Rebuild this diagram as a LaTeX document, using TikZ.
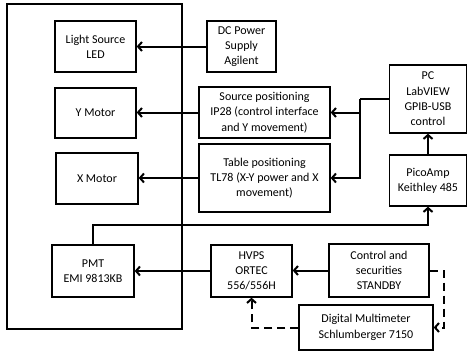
\documentclass[tikz,border=0pt]{standalone}
\usepackage{fontspec}
\setmainfont{Carlito}
\usetikzlibrary{arrows.meta}
\tikzset{box/.style={draw, line width=1.3pt, align=center, inner sep=1pt, font=\fontsize{12}{15.3}\selectfont},
  link/.style={line width=2pt, -{Straight Barb[length=4pt,width=9pt,line width=2pt]}},
  dash link/.style={link, dash pattern=on 8pt off 5pt}}

\begin{document}
\begin{tikzpicture}[x=1pt, y=-1pt]
      \useasboundingbox (0,0) rectangle (468,351);
      \draw [line width=1.3pt] (7,4) rectangle (182,329);

      \node [box, minimum width=81pt, minimum height=51pt] (led) at (95.5,46.5) {Light Source\\LED};
      \node [box, minimum width=81pt, minimum height=50pt] (ymotor) at (95.5,113) {Y Motor};
      \node [box, minimum width=82pt, minimum height=51pt] (xmotor) at (97,178.5) {X Motor};
      \node [box, minimum width=82pt, minimum height=52pt] (pmt) at (93,271) {PMT\\EMI 9813KB};

      \node [box, minimum width=69pt, minimum height=51pt] (dc) at (241.5,46.5) {DC Power\\Supply\\Agilent};
      \node [box, minimum width=131pt, minimum height=51pt] (srcpos) at (264.5,112.5) {Source positioning\\IP28 (control interface\\and Y movement)};
      \node [box, minimum width=131pt, minimum height=68pt] (tabpos) at (264.5,178) {Table positioning\\TL78 (X-Y power and X\\movement)};
      \node [box, minimum width=77pt, minimum height=68pt] (pc) at (428,99) {PC\\LabVIEW\\GPIB-USB\\control};
      \node [box, minimum width=77pt, minimum height=51pt] (pico) at (428,180.5) {PicoAmp\\Keithley 485};
      \node [box, minimum width=81pt, minimum height=52pt] (hvps) at (251.5,271) {HVPS\\ORTEC\\556/556H};
      \node [box, minimum width=100pt, minimum height=53pt] (ctrl) at (379,270.5) {Control and\\securities\\STANDBY};
      \node [box, minimum width=134pt, minimum height=45pt] (dmm) at (366,327.5) {Digital Multimeter\\Schlumberger 7150};

      \coordinate (bus) at (360,99);

      \draw [link] (dc.west) -- (led.east);
      \draw [link] (srcpos.west) -- (srcpos.west -| ymotor.east);
      \draw [link] (tabpos.west) -- (tabpos.west -| xmotor.east);
      \draw [line width=2pt] (pc.west) -- (bus);
      \draw [link] (bus) |- (srcpos.east);
      \draw [link] (bus) |- (tabpos.east);
      \draw [link] (pico.north) -- (pc.south);
      \draw [link] (pmt.north) -- ++(0,-19) -| (pico.south);
      \draw [link] (hvps.west) -- (hvps.west -| pmt.east);
      \draw [link] (ctrl.west) -- (ctrl.west -| hvps.east);
      \draw [dash link] (ctrl.east) -- ++(14,0) |- (dmm.east);
      \draw [dash link] (dmm.west) -| (hvps.south);
\end{tikzpicture}
\end{document}
